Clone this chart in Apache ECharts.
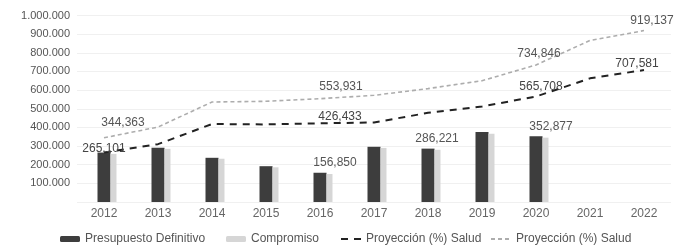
<!DOCTYPE html>
<html>
<head>
<meta charset="utf-8">
<script src="https://cdn.jsdelivr.net/npm/echarts@6/dist/echarts.min.js"></script>
<style>
  html, body { margin: 0; padding: 0; background: #fff; }
  #chart { width: 675px; height: 245px; }
</style>
</head>
<body>
<div id="chart"></div>
<script>
// datos
const years = ['2012', '2013', '2014', '2015', '2016', '2017', '2018', '2019', '2020', '2021', '2022']
const presupuesto = [265101, 291000, 237000, 192000, 156850, 296000, 286221, 376000, 352877, null, null]
const compromiso = [258000, 285000, 232000, 186000, 150000, 290000, 280000, 366000, 345000, null, null]
const proyDark = [265101, 310000, 418000, 416000, 422000, 426433, 478000, 512000, 565708, 663000, 707581]
const proyLight = [344363, 402000, 536000, 540000, 553931, 572000, 608000, 650000, 734846, 866000, 919137]
const yTicks = [0, 100000, 200000, 300000, 400000, 500000, 600000, 700000, 800000, 900000, 1000000]

// indices con etiqueta visible y su desplazamiento
const barLabelIdx = { 4: [15, 0], 6: [9, 0], 8: [15, 0] }
const darkLabelIdx = { 0: [0, 7], 5: [-34, 5], 8: [5, 1], 10: [-7, 5] }
const lightLabelIdx = { 0: [19, -4], 4: [21, -1], 8: [3, 0], 10: [8, 1] }

const fmtDot = v => String(v).replace(/\B(?=(\d{3})+(?!\d))/g, '.')
const fmtComma = v => String(v).replace(/\B(?=(\d{3})+(?!\d))/g, ',')

const withLabels = (values, idx) => values.map((v, i) => {
  if (!(i in idx)) return v
  return {
    value: v,
    label: { show: true, offset: idx[i], formatter: p => fmtComma(p.value) }
  }
})

const chart = echarts.init(document.getElementById('chart'))
const font = 'Liberation Sans, Arial, sans-serif'

// una leyenda por elemento para respetar las posiciones
const legendItem = (item, left) => ({
  data: [item],
  left: left,
  top: 228,
  itemWidth: 20,
  itemHeight: 6,
  textStyle: { fontSize: 12, color: '#555', fontFamily: font }
})

const option = {
  animation: false,
  textStyle: { fontFamily: font },
  grid: { left: 77, right: 4, top: 15.5, bottom: 43 },
  legend: [
    legendItem('Presupuesto Definitivo', 55),
    legendItem('Compromiso', 221),
    legendItem({ name: 'Proyección (%) Salud', itemStyle: { opacity: 0 } }, 335),
    legendItem({ name: 'Proyección (%) Salud ', itemStyle: { opacity: 0 } }, 485)
  ],
  xAxis: {
    type: 'category',
    data: years,
    axisLine: { show: false },
    axisTick: { show: false },
    axisLabel: { color: '#666', fontSize: 12, margin: 6 }
  },
  yAxis: {
    type: 'value',
    min: yTicks[0],
    max: yTicks[yTicks.length - 1],
    interval: yTicks[1] - yTicks[0],
    axisLine: { show: false },
    axisTick: { show: false },
    splitLine: { lineStyle: { color: '#f0f0f0' } },
    axisLabel: {
      color: '#555',
      fontSize: 11,
      margin: 7,
      formatter: v => (v === 0 ? '' : fmtDot(v))
    }
  },
  series: [
    {
      name: '',
      type: 'bar',
      barWidth: 6,
      barGap: 0,
      data: []
    },
    {
      name: 'Presupuesto Definitivo',
      type: 'bar',
      barWidth: 13,
      barGap: 0,
      itemStyle: { color: '#3d3d3d' },
      label: { position: 'top', color: '#555', fontSize: 12, distance: 4 },
      data: withLabels(presupuesto, barLabelIdx)
    },
    {
      name: 'Compromiso',
      type: 'bar',
      barWidth: 6,
      barGap: 0,
      itemStyle: { color: '#d6d6d6' },
      data: compromiso
    },
    {
      name: 'Proyección (%) Salud',
      type: 'line',
      symbol: 'circle',
      symbolSize: 0.1,
      lineStyle: { color: '#222', width: 2, type: [7, 6] },
      itemStyle: { color: '#222' },
      label: { position: 'top', color: '#444', fontSize: 12 },
      data: withLabels(proyDark, darkLabelIdx)
    },
    {
      name: 'Proyección (%) Salud ',
      type: 'line',
      symbol: 'circle',
      symbolSize: 0.1,
      lineStyle: { color: '#adadad', width: 1.6, type: [4, 3] },
      itemStyle: { color: '#adadad' },
      label: { position: 'top', color: '#555', fontSize: 12 },
      data: withLabels(proyLight, lightLabelIdx)
    }
  ]
}

chart.setOption(option)
</script>
</body>
</html>
